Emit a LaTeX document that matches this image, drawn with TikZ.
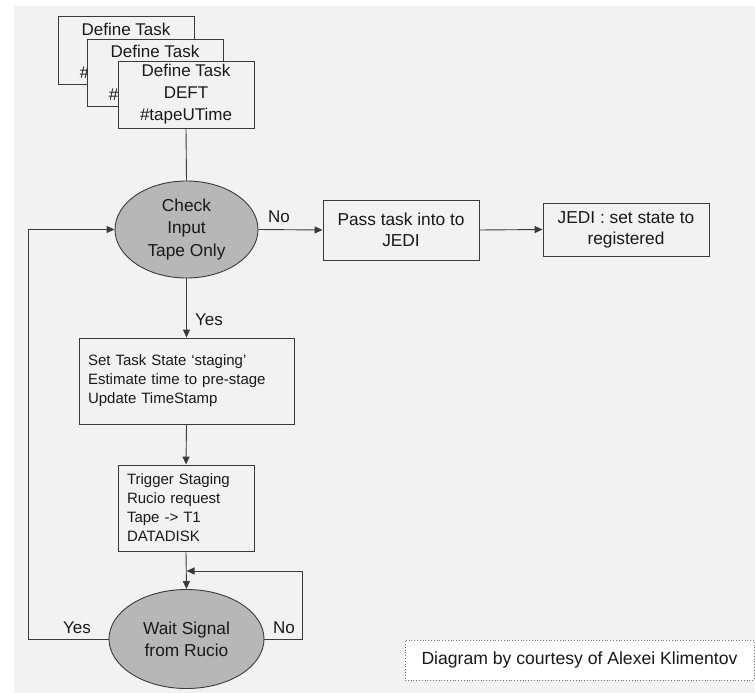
\documentclass[tikz,border=0pt]{standalone}
\usepackage{fontspec}
\setmainfont{Liberation Sans}
\usetikzlibrary{shapes.geometric,arrows.meta}
\definecolor{bg}{HTML}{F2F2F2}
\definecolor{ln}{HTML}{3A3A3A}
\definecolor{ellfill}{HTML}{B7B7B7}
\tikzset{
  base/.style={draw=ln, line width=0.9pt, fill=bg, inner sep=0pt, text=black!90},
  taskbox/.style={base, rectangle, minimum width=136pt, minimum height=67pt, align=center, font=\fontsize{17}{22}\selectfont},
  plainbox/.style={base, rectangle, align=center, font=\fontsize{17.3}{21}\selectfont},
  leftbox/.style={base, rectangle, align=left, font=\fontsize{15}{19}\selectfont, inner xsep=9pt},
  decide/.style={base, ellipse, fill=ellfill, align=center, font=\fontsize{17.3}{22.5}\selectfont},
  conn/.style={draw=ln, line width=0.9pt},
  arr/.style={conn, -{Triangle[length=8pt,width=7pt]}},
  lbl/.style={font=\fontsize{17}{20}\selectfont, text=black!90, inner sep=0pt},
  tasktxt/.style={font=\fontsize{17}{22}\selectfont, text=black!90, inner sep=0pt},
}
\begin{document}
\begin{tikzpicture}[x=1pt,y=-1pt]
\useasboundingbox (0,0) rectangle (755,693);
\fill[white] (0,0) rectangle (755,693);
\fill[bg] (14,6) rectangle (755,693);

\node[taskbox, minimum height=68pt] (b1) at (126,50) {};
\node[tasktxt] (b1t) at (126,29) {Define Task};
\node[tasktxt] (b1h) at (84.5,73) {\#};
\node[taskbox] (b2) at (155,72.5) {};
\node[tasktxt] (b2t) at (155,51) {Define Task};
\node[tasktxt] (b2h) at (113.5,95) {\#};
\node[taskbox] (b3) at (186,94.5) {Define Task\\DEFT\\\#tapeUTime};

\node[decide, minimum width=143pt, minimum height=97pt] (e1) at (186.5,229.5) {Check\\Input\\Tape Only};
\node[plainbox, minimum width=156pt, minimum height=60pt] (pass) at (401,230) {Pass task into to\\JEDI};
\node[plainbox, minimum width=166pt, minimum height=53pt] (jedi) at (626,229.5) {JEDI : set state to\\registered};

\node[leftbox, minimum width=215pt, minimum height=86pt, text width=197pt] (set) at (186.5,381) {Set Task State ‘staging’\\Estimate time to pre-stage\\Update TimeStamp};
\node[leftbox, minimum width=136pt, minimum height=86pt, text width=118pt] (trig) at (186,508) {Trigger Staging\\Rucio request\\Tape -> T1\\DATADISK};

\node[decide, minimum width=155pt, minimum height=99pt, font=\fontsize{17.3}{22}\selectfont] (e2) at (186.5,639) {Wait Signal\\from Rucio};

\node[draw=ln!70, dotted, line width=0.8pt, fill=white, minimum width=349pt, minimum height=40pt, inner sep=0pt, font=\fontsize{17.6}{20}\selectfont, text=black!90] (credit) at (579.5,660) {Diagram by courtesy of Alexei Klimentov};

\coordinate (j) at (186.5,571);
\coordinate (nr) at (302,639);
\coordinate (nt) at (302,571);
\coordinate (yl) at (28,639);
\coordinate (yt) at (28,229.5);

\draw[conn] (b3.south) -- (e1.north);
\draw[arr] (e1.east) -- (pass.west);
\draw[arr] (pass.east) -- (jedi.west);
\draw[arr] (e1.south) -- (set.north);
\draw[arr] (set.south) -- (trig.north);
\draw[arr] (trig.south) -- (e2.north);
\draw[arr] (e2.east) -- (nr) -- (nt) -- (j);
\draw[arr] (e2.west) -- (yl) -- (yt) -- (e1.west);

\node[lbl] (lno1) at (279,217) {No};
\node[lbl] (lyes1) at (209,320) {Yes};
\node[lbl] (lno2) at (284,628) {No};
\node[lbl] (lyes2) at (77,628) {Yes};
\end{tikzpicture}
\end{document}
